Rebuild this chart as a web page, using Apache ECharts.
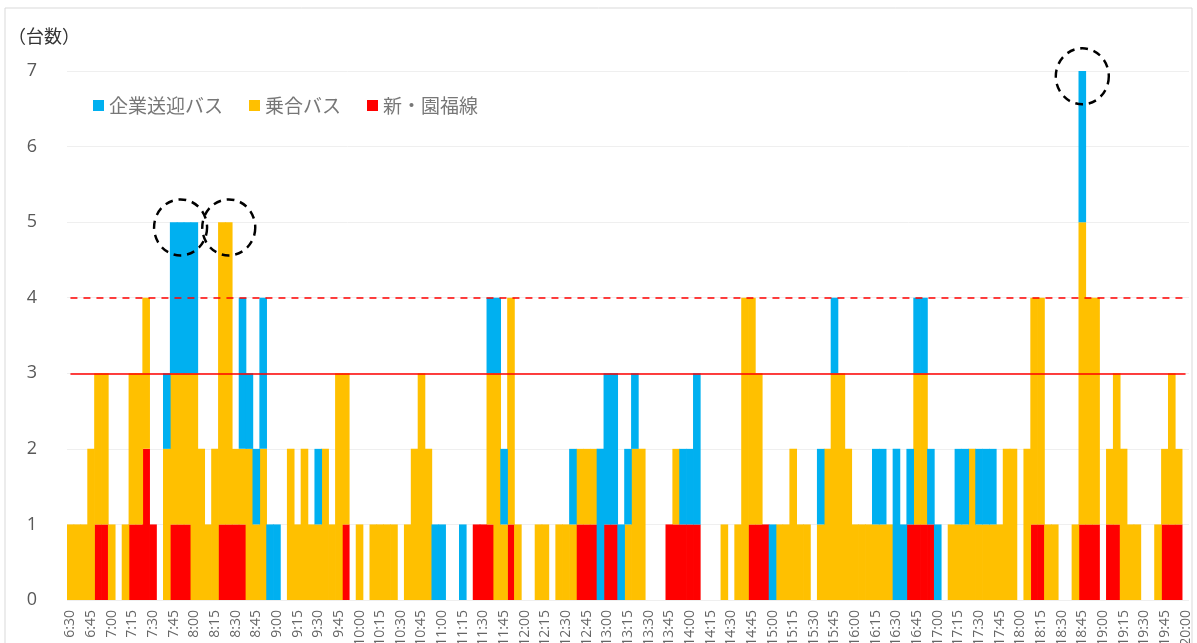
<!DOCTYPE html>
<html>
<head>
<meta charset="utf-8">
<script src="https://cdn.jsdelivr.net/npm/echarts@6/dist/echarts.min.js"></script>
<style>
  html, body { margin: 0; padding: 0; background: #fff; }
  #chart { width: 1197px; height: 643px; }
</style>
</head>
<body>
<div id="chart"></div>
<script>
// 5分ごとの区分 6:30〜20:00
const categories = []
for (let m = 6 * 60 + 30; m <= 20 * 60; m += 5) {
  categories.push(Math.floor(m / 60) + ':' + String(m % 60).padStart(2, '0'))
}

// 新・園福線（一番下）
const redData = [
  0, 0, 0, 0, 1, 1,
  0, 0, 0, 1, 1, 2, 1, 0, 0, 1, 1, 1,
  0, 0, 0, 0, 1, 1, 1, 1, 0, 0, 0, 0,
  0, 0, 0, 0, 0, 0, 0, 0, 0, 0, 1, 0,
  0, 0, 0, 0, 0, 0, 0, 0, 0, 0, 0, 0,
  0, 0, 0, 0, 0, 1, 1, 1, 0, 0, 1, 0,
  0, 0, 0, 0, 0, 0, 0, 0, 1, 1, 1, 0,
  1, 1, 0, 0, 0, 0, 0, 0, 0, 1, 1, 1,
  1, 1, 0, 0, 0, 0, 0, 0, 0, 1, 1, 1,
  0, 0, 0, 0, 0, 0, 0, 0, 0, 0, 0, 0,
  0, 0, 0, 0, 0, 0, 0, 0, 1, 1, 1, 1,
  0, 0, 0, 0, 0, 0, 0, 0, 0, 0, 0, 0,
  0, 0, 1, 1, 0, 0, 0, 0, 0, 1, 1, 1,
  0, 1, 1, 0, 0, 0, 0, 0, 0, 1, 1, 1,
  0,
]

// 乗合バス（中段）
const yellowData = [
  1, 1, 1, 2, 2, 2,
  1, 0, 1, 2, 2, 2, 0, 0, 2, 2, 2, 2,
  3, 2, 1, 2, 4, 4, 1, 1, 2, 1, 2, 0,
  0, 0, 2, 1, 2, 1, 1, 2, 1, 3, 2, 0,
  1, 0, 1, 1, 1, 1, 0, 1, 2, 3, 2, 0,
  0, 0, 0, 0, 0, 0, 0, 2, 3, 1, 3, 1,
  0, 0, 1, 1, 0, 1, 1, 1, 1, 1, 1, 0,
  0, 0, 0, 1, 2, 2, 0, 0, 0, 0, 1, 0,
  0, 0, 0, 0, 0, 1, 0, 1, 4, 3, 2, 0,
  0, 1, 1, 2, 1, 1, 0, 1, 2, 3, 3, 2,
  1, 1, 1, 1, 1, 1, 0, 0, 0, 2, 2, 0,
  0, 0, 1, 1, 1, 2, 1, 1, 1, 1, 2, 2,
  0, 2, 3, 3, 1, 1, 0, 0, 1, 4, 3, 3,
  0, 1, 2, 2, 1, 1, 0, 0, 1, 1, 2, 1,
  0,
]

// 企業送迎バス（上段）
const blueData = [
  0, 0, 0, 0, 0, 0,
  0, 0, 0, 0, 0, 0, 0, 0, 1, 2, 2, 2,
  2, 0, 0, 0, 0, 0, 0, 2, 1, 1, 2, 1,
  1, 0, 0, 0, 0, 0, 1, 0, 0, 0, 0, 0,
  0, 0, 0, 0, 0, 0, 0, 0, 0, 0, 0, 1,
  1, 0, 0, 1, 0, 0, 0, 1, 1, 1, 0, 0,
  0, 0, 0, 0, 0, 0, 0, 1, 0, 0, 0, 2,
  2, 2, 1, 1, 1, 0, 0, 0, 0, 0, 0, 1,
  1, 2, 0, 0, 0, 0, 0, 0, 0, 0, 0, 0,
  1, 0, 0, 0, 0, 0, 0, 1, 0, 1, 0, 0,
  0, 0, 0, 1, 1, 0, 2, 1, 1, 1, 1, 1,
  1, 0, 0, 1, 1, 0, 1, 1, 1, 0, 0, 0,
  0, 0, 0, 0, 0, 0, 0, 0, 0, 2, 0, 0,
  0, 0, 0, 0, 0, 0, 0, 0, 0, 0, 0, 0,
  0,
]

// 点線の丸（時刻, 台数）
const circleMarks = [
  ['7:50', 4.93],
  ['8:25', 4.93],
  ['18:45', 6.93],
]

const yTicks = [0, 1, 2, 3, 4, 5, 6, 7]

const RED = '#ff0000'
const YELLOW = '#ffc000'
const BLUE = '#00b0f0'

// 0台の区分は描かない
const toBars = (arr) => arr.map((v) => (v === 0 ? '-' : v))

const chart = echarts.init(document.getElementById('chart'))
const option = {
  animation: false,
  title: {
    text: '（台数）',
    left: 3,
    top: 22,
    textStyle: { fontSize: 18, fontWeight: 'normal', color: '#333', fontFamily: 'Noto Sans CJK JP' },
  },
  legend: {
    data: ['企業送迎バス', '乗合バス', '新・園福線'],
    left: 88,
    top: 91,
    icon: 'rect',
    itemWidth: 11,
    itemHeight: 11,
    itemGap: 26,
    textStyle: { fontSize: 19, color: '#777', fontFamily: 'Noto Sans CJK JP' },
  },
  graphic: [
    {
      type: 'rect',
      shape: { x: 5, y: 8, width: 1187, height: 650 },
      style: { fill: 'none', stroke: '#d9d9d9', lineWidth: 1 },
      silent: true,
    },
  ],
  // ラベルがはみ出してもグリッドを縮めない
  grid: { left: 67, right: 8, top: 71, bottom: 43, outerBoundsMode: 'none', containLabel: false },
  xAxis: {
    type: 'category',
    data: categories,
    axisTick: { show: false },
    axisLine: { show: false },
    axisLabel: {
      interval: 2,
      rotate: 90,
      margin: 10,
      fontSize: 14,
      color: '#666',
      fontFamily: 'Open Sans',
    },
  },
  yAxis: {
    type: 'value',
    min: yTicks[0],
    max: yTicks[yTicks.length - 1],
    interval: 1,
    axisLine: { show: false },
    axisTick: { show: false },
    axisLabel: { fontSize: 18, color: '#595959', margin: 30, fontFamily: 'Open Sans' },
    splitLine: { lineStyle: { color: '#efefef', width: 1 } },
  },
  series: [
    {
      name: '新・園福線',
      type: 'bar',
      stack: 'bus',
      barWidth: 7.6, // 区分幅より少し広くして隙間をなくす
      itemStyle: { color: RED },
      data: toBars(redData),
      markLine: {
        silent: true,
        symbol: 'none',
        label: { show: false },
        z: 10,
        data: [
          [
            { coord: ['6:30', 4], lineStyle: { color: RED, width: 1.5, type: [7, 6] } },
            { coord: ['20:00', 4] },
          ],
          [
            { coord: ['6:30', 3], lineStyle: { color: RED, width: 1.5, type: 'solid' } },
            { coord: ['20:00', 3] },
          ],
        ],
      },
      markPoint: {
        silent: true,
        symbol: 'circle',
        symbolSize: [53, 56],
        label: { show: false },
        itemStyle: { color: 'rgba(0,0,0,0)', borderColor: '#000', borderWidth: 2.5, borderType: [8, 6] },
        z: 12,
        data: circleMarks.map((c) => ({ coord: c })),
      },
    },
    {
      name: '乗合バス',
      type: 'bar',
      stack: 'bus',
      barWidth: 7.6,
      itemStyle: { color: YELLOW },
      data: toBars(yellowData),
    },
    {
      name: '企業送迎バス',
      type: 'bar',
      stack: 'bus',
      barWidth: 7.6,
      itemStyle: { color: BLUE },
      data: toBars(blueData),
    },
  ],
}
chart.setOption(option)
</script>
</body>
</html>
